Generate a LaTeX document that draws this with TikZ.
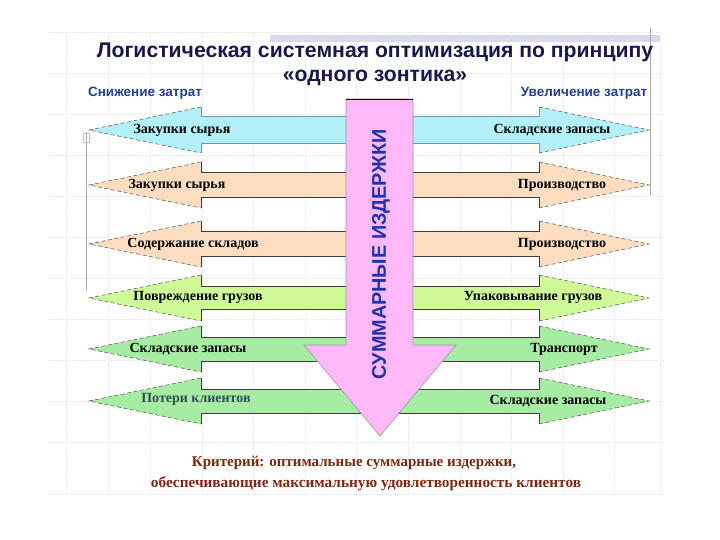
\documentclass[tikz,border=0pt]{standalone}
\usepackage{fontspec}
\setmainfont{Liberation Serif}
\newfontfamily\sansfam{Liberation Sans}
\definecolor{cyanf}{RGB}{178,240,249}
\definecolor{peachf}{RGB}{252,221,192}
\definecolor{limef}{RGB}{206,250,152}
\definecolor{greenf}{RGB}{166,236,162}
\definecolor{pinkf}{RGB}{255,184,248}
\definecolor{titlec}{RGB}{22,24,78}
\definecolor{bluec}{RGB}{32,64,150}
\definecolor{vertc}{RGB}{30,50,170}
\definecolor{critc}{RGB}{125,38,18}
\definecolor{tealc}{RGB}{45,78,88}
\definecolor{edgec}{RGB}{60,60,60}
\definecolor{edgeb}{RGB}{120,150,185}
\definecolor{gridc}{RGB}{234,234,234}
\definecolor{bandc}{RGB}{214,218,234}
\begin{document}
\begin{tikzpicture}[x=1pt,y=-1pt,
  lbl/.style={font=\bfseries\fontsize{14}{16}\selectfont, inner sep=0pt, anchor=center},
  sidetxt/.style={font=\sansfam\bfseries\fontsize{13.5}{16}\selectfont, text=bluec, inner sep=0pt},
  headline/.style={line width=0.6pt, dash pattern=on 4pt off 2.5pt, draw=edgec!80},
  shaftline/.style={line width=0.8pt}
]
\useasboundingbox (0,0) rectangle (720,540);
\fill[white] (0,0) rectangle (720,540);
% faint grid
\foreach \yy in {32,73,114,155,196,237,278,319,360,401,442,494}
  \draw[gridc, densely dotted, line width=0.5pt] (48,\yy) -- (664,\yy);
\foreach \xx in {66,108,150,202,253,305,356,408,460,511,563,614,660}
  \draw[gridc, densely dotted, line width=0.5pt] (\xx,32) -- (\xx,494);
% top band
\fill[bandc] (270,35) rectangle (660,42);
% side lines
\draw[gray!70, line width=0.6pt] (86,132) -- (86,290);
\draw[gray!50, line width=0.5pt] (83,133) rectangle (89,142);
\draw[gray!70, line width=0.6pt] (650,28) -- (650,195);

% double arrows
\foreach \c/\sh/\fc/\ec in {130/13.5/cyanf/edgeb, 185/12.5/peachf/edgec, 244/12.5/peachf/edgec, 298/11.5/limef/edgec, 349/12/greenf/edgec, 401/12/greenf/edgec}{
  \fill[\fc] (89,\c) -- (201,\c-23) -- (201,\c-\sh) -- (539,\c-\sh) -- (539,\c-23) -- (649,\c)
     -- (539,\c+23) -- (539,\c+\sh) -- (201,\c+\sh) -- (201,\c+23) -- cycle;
  \draw[shaftline, draw=\ec] (201,\c-23) -- (201,\c-\sh) -- (539,\c-\sh) -- (539,\c-23);
  \draw[shaftline, draw=\ec] (201,\c+23) -- (201,\c+\sh) -- (539,\c+\sh) -- (539,\c+23);
  \draw[headline] (201,\c-23) -- (89,\c) -- (201,\c+23);
  \draw[headline] (539,\c-23) -- (649,\c) -- (539,\c+23);
}

% labels
\node[lbl] (l1) at (182,130) {Закупки сырья};
\node[lbl] (l2) at (177,185) {Закупки сырья};
\node[lbl] (l3) at (193,244) {Содержание складов};
\node[lbl] (l4) at (198,297) {Повреждение грузов};
\node[lbl] (l5) at (188,349) {Складские запасы};
\node[lbl, text=tealc] (l6) at (196,399) {Потери клиентов};
\node[lbl] (r1) at (552,130) {Складские запасы};
\node[lbl] (r2) at (562,185) {Производство};
\node[lbl] (r3) at (562,244) {Производство};
\node[lbl] (r4) at (533,297) {Упаковывание грузов};
\node[lbl] (r5) at (564,349) {Транспорт};
\node[lbl] (r6) at (548,401) {Складские запасы};

% central arrow
\filldraw[fill=pinkf, draw=gray!80, line width=0.6pt]
  (346,99) -- (413,99) -- (413,345) -- (456,345) -- (380,436) -- (304,345) -- (346,345) -- cycle;
\draw[black, line width=0.8pt] (346,99) -- (413,99);
\node[rotate=90, font=\sansfam\bfseries\fontsize{19.8}{22}\selectfont, text=vertc, inner sep=0pt] (vt) at (381,254) {СУММАРНЫЕ ИЗДЕРЖКИ};

% titles
\node[font=\sansfam\bfseries\fontsize{21.2}{24}\selectfont, text=titlec, inner sep=0pt] (t1) at (375,52) {Логистическая системная оптимизация по принципу};
\node[font=\sansfam\bfseries\fontsize{21.2}{24}\selectfont, text=titlec, inner sep=0pt] (t2) at (375,78) {«одного зонтика»};
\node[sidetxt] (s1) at (145,93) {Снижение затрат};
\node[sidetxt] (s2) at (584,93) {Увеличение затрат};

% criterion
\node[font=\bfseries\fontsize{15}{18}\selectfont, text=critc, inner sep=0pt] (c1) at (354,463) {Критерий: оптимальные суммарные издержки,};
\node[font=\bfseries\fontsize{15.3}{18}\selectfont, text=critc, inner sep=0pt] (c2) at (366,484) {обеспечивающие максимальную удовлетворенность клиентов};
\end{tikzpicture}
\end{document}
